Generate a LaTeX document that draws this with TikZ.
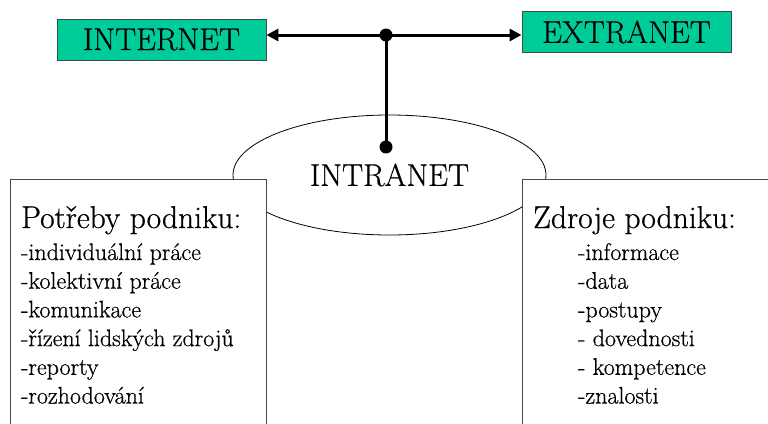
\documentclass[tikz,border=0pt]{standalone}
\usepackage{fontspec}
\setmainfont{Latin Modern Roman}[FakeBold=0.6]
\usetikzlibrary{arrows.meta,shapes.geometric}
\definecolor{netgreen}{HTML}{00CC99}
\definecolor{boxline}{HTML}{3F4F4F}
\tikzset{
  bigtext/.style={font=\fontsize{31.5}{38}\selectfont},
  netbox/.style={draw=boxline, line width=0.9pt, fill=netgreen, minimum width=209pt, minimum height=41pt, inner sep=0pt, bigtext},
  panel/.style={draw=boxline, line width=0.9pt, fill=white},
  heading/.style={anchor=base west, inner sep=0pt, bigtext},
  item/.style={anchor=base west, inner sep=0pt, font=\fontsize{24}{28}\selectfont},
  link/.style={line width=3pt, -{Triangle[length=12pt, width=12pt]}},
  stem/.style={line width=3pt},
  joint/.style={circle, fill=black, minimum size=13pt, inner sep=0pt}
}
\begin{document}
\begin{tikzpicture}[x=1pt, y=-1pt]
\useasboundingbox (0,0) rectangle (768,423);
\clip (0,0) rectangle (768,423);

% central intranet ellipse
\node[draw, ellipse, line width=0.8pt, minimum width=313pt, minimum height=120pt, inner sep=0pt,
      bigtext] (intranet) at (389.5,175) {INTRANET};

% side panels drawn over the ellipse
\path[panel] (10,179) rectangle (266,440);
\path[panel] (522,179) rectangle (780,440);

\node[heading] (needs) at (21,228) {Potřeby podniku:};
\foreach \t [count=\i] in {-individuální práce,-kolektivní práce,-komunikace,-řízení lidských zdrojů,-reporty,-rozhodování}
  \node[item] (n\i) at (21,{260+28.7*(\i-1)}) {\t};

\node[heading] (res) at (533,228) {Zdroje podniku:};
\foreach \t [count=\i] in {-informace,-data,-postupy,- dovednosti,- kompetence,-znalosti}
  \node[item] (r\i) at (578,{260+28.7*(\i-1)}) {\t};

% external networks
\node[netbox] (internet) at (161.5,39.5) {INTERNET};
\node[netbox] (extranet) at (626.5,32) {EXTRANET};

% connectors
\node[joint] (j) at (386,35) {};
\node[joint] (k) at (386,147) {};
\draw[stem] (j.center) -- (k.center);
\draw[link] (j.center) -- (j.center -| internet.east);
\draw[link] (j.center) -- (j.center -| extranet.west);
\end{tikzpicture}
\end{document}
